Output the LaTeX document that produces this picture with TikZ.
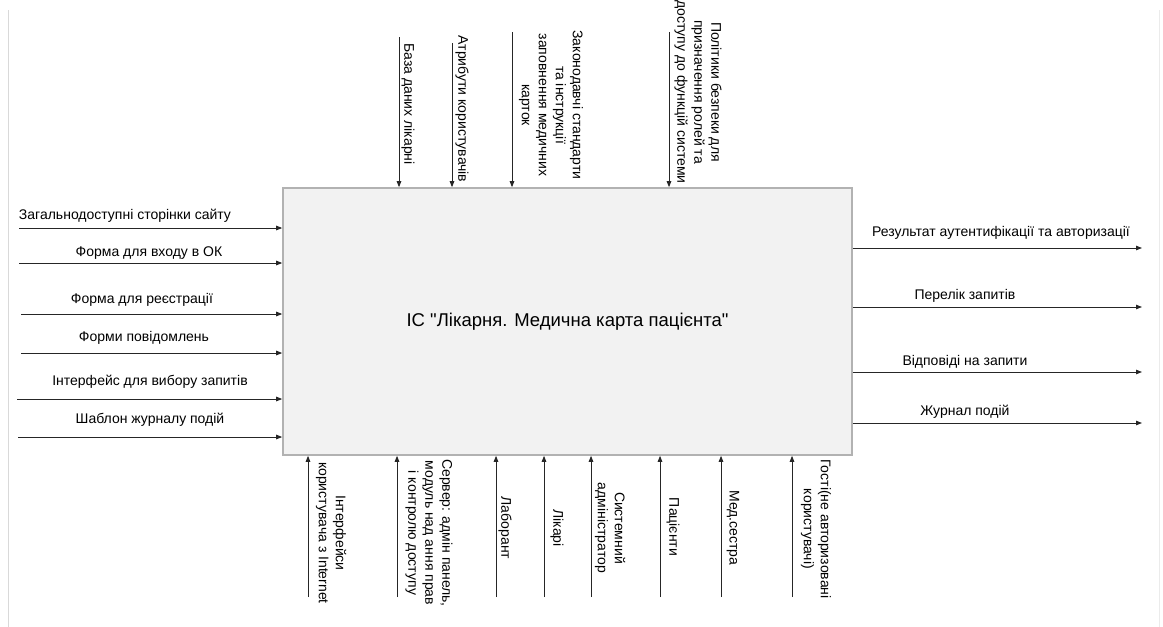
\documentclass[tikz,border=0pt]{standalone}
\usepackage{fontspec}
\setmainfont{Liberation Sans}
\usetikzlibrary{arrows.meta}
\begin{document}
\begin{tikzpicture}[x=1pt,y=-1pt,
  flow/.style={draw=black!85, line width=0.9pt, -{Triangle[length=6pt,width=4.5pt]}},
  lbl/.style={inner sep=0pt, font=\fontsize{14}{17}\selectfont, align=center},
  vlbl/.style={lbl, rotate=-90},
  mainbox/.style={draw=black!30, line width=1.6pt, fill=black!5, minimum width=569pt, minimum height=267pt, font=\fontsize{18.5}{22}\selectfont}
]
\useasboundingbox (0,0) rectangle (1163,627);
% side rules of the sheet
\draw[black!15, line width=1.2pt] (8.5,10) -- (8.5,627);
\draw[black!8, line width=1.2pt] (1159.5,10) -- (1159.5,627);

% the function block
\node[mainbox] (box) at (567.5,321.5) {ІС \textquotedbl Лікарня. Медична карта пацієнта\textquotedbl};

% inputs
\coordinate (i1) at (19,228);
\coordinate (i2) at (19,263);
\coordinate (i3) at (21,314);
\coordinate (i4) at (21,353);
\coordinate (i5) at (17,399);
\coordinate (i6) at (18,437);
\foreach \c in {i1,i2,i3,i4,i5,i6} \draw[flow] (\c) -- (\c -| box.west);
\node[lbl] (li1) at (125,216) {Загальнодоступні сторінки сайту};
\node[lbl] (li2) at (149,253) {Форма для входу в ОК};
\node[lbl] (li3) at (142,300) {Форма для реєстрації};
\node[lbl] (li4) at (144,338) {Форми повідомлень};
\node[lbl] (li5) at (150,382) {Інтерфейс для вибору запитів};
\node[lbl] (li6) at (150,420) {Шаблон журналу подій};

% outputs
\coordinate (o1) at (1142,248);
\coordinate (o2) at (1142,307);
\coordinate (o3) at (1142,372);
\coordinate (o4) at (1142,423);
\foreach \c in {o1,o2,o3,o4} \draw[flow] (\c -| box.east) -- (\c);
\node[lbl] (lo1) at (1001,233) {Результат аутентифікації та авторизації};
\node[lbl] (lo2) at (965,296) {Перелік запитів};
\node[lbl] (lo3) at (965,362) {Відповіді на запити};
\node[lbl] (lo4) at (965,412) {Журнал подій};

% controls
\coordinate (c1) at (399,37);
\coordinate (c2) at (452,43);
\coordinate (c3) at (512,32);
\coordinate (c4) at (669,32);
\foreach \c in {c1,c2,c3,c4} \draw[flow] (\c) -- (\c |- box.north);
\node[vlbl] (lc1) at (408,104) {База даних лікарні};
\node[vlbl] (lc2) at (462,109) {Атрибути користувачів};
\node[vlbl] (lc3) at (551,105) {Законодавчі стандарти\\та інструкції\\заповнення медичних\\карток};
\node[vlbl] (lc4) at (698,92) {Політики безпеки для\\призначення ролей та\\доступу до функцій системи};

% mechanisms
\coordinate (m1) at (308,597);
\coordinate (m2) at (397,597);
\coordinate (m3) at (496,597);
\coordinate (m4) at (544,597);
\coordinate (m5) at (591,597);
\coordinate (m6) at (660,597);
\coordinate (m7) at (721,597);
\coordinate (m8) at (792,597);
\foreach \c in {m1,m2,m3,m4,m5,m6,m7,m8} \draw[flow] (\c) -- (\c |- box.south);
\node[vlbl] (lm1) at (331,533) {Інтерфейси\\користувача з Internet};
\node[vlbl] (lm2) at (429,533) {Сервер:  адмін панель,\\модуль над ання прав\\і контролю доступу};
\node[vlbl] (lm3) at (505,528) {Лаборант};
\node[vlbl] (lm4) at (557,528) {Лікарі};
\node[vlbl] (lm5) at (610,528) {Системний\\адміністратор};
\node[vlbl] (lm6) at (673,527) {Пацієнти};
\node[vlbl] (lm7) at (733,528) {Мед.сестра};
\node[vlbl] (lm8) at (816,529) {Гості(не авторизовані\\користувачі)};
\end{tikzpicture}
\end{document}
